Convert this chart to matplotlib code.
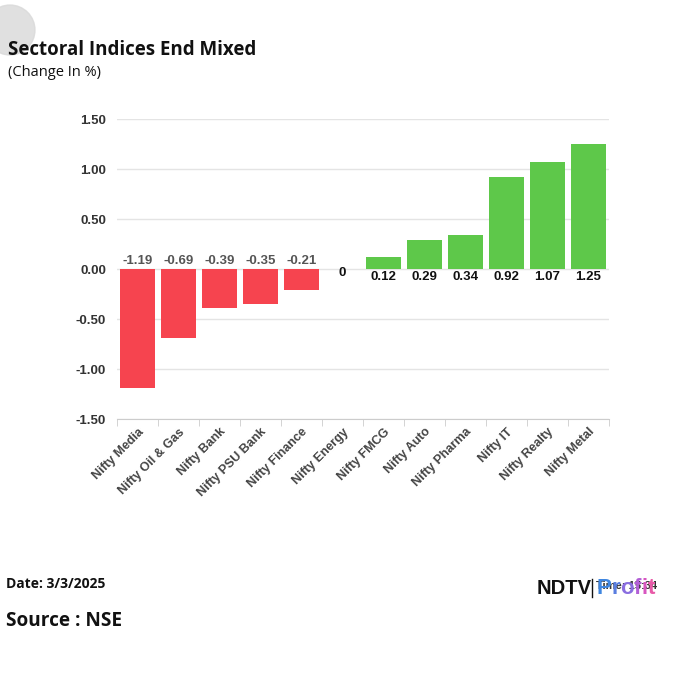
import matplotlib.pyplot as plt
from matplotlib.patches import Circle

sectors = [
    "Nifty Media", "Nifty Oil & Gas", "Nifty Bank", "Nifty PSU Bank",
    "Nifty Finance", "Nifty Energy", "Nifty FMCG", "Nifty Auto",
    "Nifty Pharma", "Nifty IT", "Nifty Realty", "Nifty Metal",
]
change_pct = [-1.19, -0.69, -0.39, -0.35, -0.21, 0, 0.12, 0.29, 0.34, 0.92, 1.07, 1.25]
y_ticks = [-1.5, -1.0, -0.5, 0.0, 0.5, 1.0, 1.5]

RED = "#f6444f"
GREEN = "#5ec84a"
W = 675

fig = plt.figure(figsize=(6.75, 6.75), dpi=100, facecolor="white")
ax = fig.add_axes([117 / W, 1 - 419 / W, 492 / W, 300 / W])

x = range(len(sectors))
colors = [GREEN if v > 0 else RED for v in change_pct]
ax.bar(x, change_pct, width=0.845, color=colors, zorder=2)

for i, v in enumerate(change_pct):
    if v < 0:
        ax.text(i, 0.025, f"{v:.2f}", ha="center", va="bottom", fontsize=9.5,
                fontweight="bold", color="#555555", family="Liberation Sans")
    elif v == 0:
        ax.text(i, -0.04, "0", ha="center", va="center", fontsize=9.5,
                fontweight="bold", color="#111111", family="Liberation Sans")
    else:
        ax.text(i, -0.025, f"{v:.2f}", ha="center", va="top", fontsize=9.5,
                fontweight="bold", color="#111111", family="Liberation Sans")

ax.set_xlim(-0.5, len(sectors) - 0.5)
ax.set_ylim(-1.5, 1.5)
ax.set_yticks(y_ticks)
ax.set_yticklabels([f"{t:.2f}" for t in y_ticks], fontsize=9.5, fontweight="bold",
                   color="#333333", family="Liberation Sans")
ax.yaxis.grid(True, color="#e4e4e4", linewidth=1, zorder=0)
ax.tick_params(axis="y", length=0, pad=8)

ax.set_xticks(list(x))
ax.set_xticklabels(sectors, rotation=45, ha="right", rotation_mode="anchor",
                   fontsize=9, fontweight="bold", color="#444444", family="Liberation Sans")
ax.set_xticks([i - 0.5 for i in range(len(sectors) + 1)], minor=True)
ax.tick_params(axis="x", which="major", length=0, pad=5)
ax.tick_params(axis="x", which="minor", length=5, color="#cccccc")

for s in ["top", "right", "left"]:
    ax.spines[s].set_visible(False)
ax.spines["bottom"].set_color("#cccccc")
ax.spines["bottom"].set_zorder(1)

# decoration circle top-left
fig.patches.append(Circle((10 / W, 1 - 30 / W), 25 / W, transform=fig.transFigure,
                          color="#d9d9d9", alpha=0.8, zorder=0))

fig.text(8 / W, 1 - 50 / W, "Sectoral Indices End Mixed", fontsize=13.5,
         fontweight="bold", family="Open Sans", va="center", color="#111111")
fig.text(8 / W, 1 - 73 / W, "(Change In %)", fontsize=10.5,
         family="Open Sans", va="center", color="#111111")

fig.text(6 / W, 1 - 584 / W, "Date: 3/3/2025", fontsize=10, fontweight="bold",
         family="Open Sans", va="center", color="#111111")
fig.text(6 / W, 1 - 621 / W, "Source : NSE", fontsize=13.7, fontweight="bold",
         family="Open Sans", va="center", color="#111111")

# logo
fig.text(537 / W, 1 - 588 / W, "NDTV", fontsize=14.5, fontweight="heavy",
         family="Liberation Sans", va="center", color="#111111")
fig.add_artist(plt.Line2D([592 / W, 592 / W], [1 - 597 / W, 1 - 579 / W],
                          transform=fig.transFigure, color="#111111", linewidth=1))
fig.text(596 / W, 1 - 586 / W, "Time: 15:34", fontsize=8, fontweight="bold",
         family="Liberation Sans", va="center", color="#333333", zorder=1)

renderer = fig.canvas.get_renderer()
profit_colors = ["#3f86e0", "#5a7ee0", "#8a6ee0", "#b25fd6", "#d856c0", "#e85aa8"]
x_pos = 597 / W
for letter, c in zip("Profit", profit_colors):
    t = fig.text(x_pos, 1 - 588 / W, letter, fontsize=16, fontweight="bold",
                 family="Liberation Sans", va="center", color=c, zorder=3)
    bb = t.get_window_extent(renderer)
    x_pos = bb.x1 / (fig.dpi * fig.get_figwidth())

fig.savefig("out.png", dpi=100, facecolor="white")
